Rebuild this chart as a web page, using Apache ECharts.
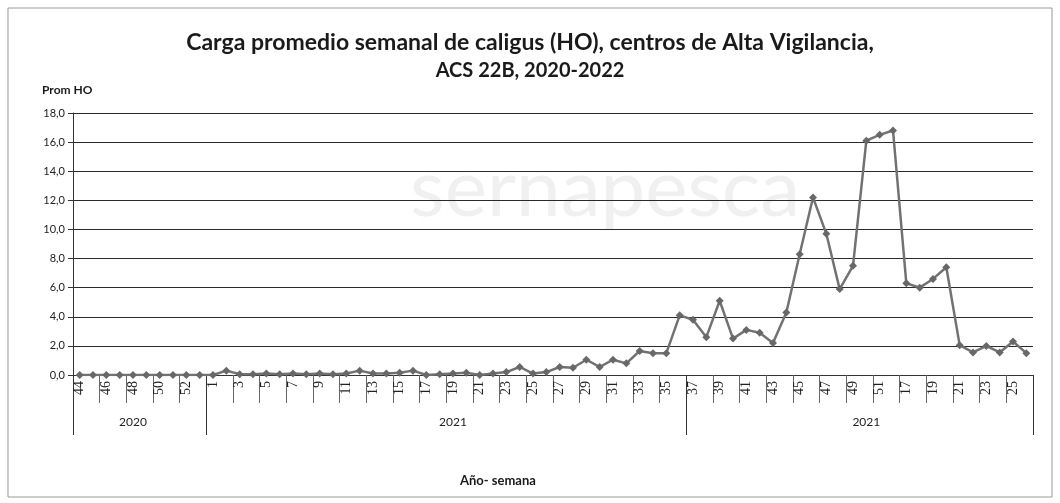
<!DOCTYPE html>
<html>
<head>
<meta charset="utf-8">
<script src="https://cdn.jsdelivr.net/npm/echarts@6/dist/echarts.min.js"></script>
<style>
html,body{margin:0;padding:0;background:#fff;}
#c{width:1060px;height:503px;}
</style>
</head>
<body>
<div id="c"></div>
<script>
// ---- data ----
var weeks = ['44','45','46','47','48','49','50','51','52','53',
  '1','2','3','4','5','6','7','8','9','10','11','12','13','14','15','16','17','18',
  '19','20','21','22','23','24','25','26','27','28','29','30','31','32','33','34','35','36',
  '37','38','39','40','41','42','43','44','45','46','47','48','49','50','51','52',
  '17','18','19','20','21','22','23','24','25','26'];
var values = [0,0,0,0,0,0,0,0,0,0,
  0.0,0.3,0.05,0.05,0.1,0.05,0.1,0.05,0.1,0.05,0.1,0.3,0.1,0.1,0.15,0.3,0.0,0.05,
  0.1,0.15,0.0,0.1,0.2,0.55,0.1,0.2,0.55,0.5,1.05,0.55,1.05,0.8,1.65,1.5,1.5,4.1,
  3.8,2.6,5.1,2.5,3.1,2.9,2.2,4.3,8.3,12.2,9.7,5.9,7.5,16.1,16.5,16.8,
  6.3,6.0,6.6,7.4,2.05,1.55,2.0,1.55,2.3,1.5];
var groupYears = ['2020','2021','2021'];
var groupSizes = [10,36,26];
var yTicks = [0,2,4,6,8,10,12,14,16,18];
var titleLine1 = 'Carga promedio semanal de caligus (HO), centros de Alta Vigilancia,';
var titleLine2 = 'ACS 22B, 2020-2022';
var yName = 'Prom HO';
var xName = 'Año- semana';

// group boundaries and label positions derived from group sizes
var groupStarts = [], groupMid = {}, acc = 0;
groupSizes.forEach(function(s, i){
  groupStarts.push(acc);
  groupMid[acc + Math.floor(s/2) - (s % 2 === 0 ? 1 : 0) + (i===0?0:1)] = groupYears[i];
  acc += s;
});

var chart = echarts.init(document.getElementById('c'), null, {renderer:'canvas'});
chart.setOption({
  backgroundColor:'#fff',
  animation:false,
  title:[
    {text:'{a|' + titleLine1 + '}\n{b|' + titleLine2 + '}', left:'center', top:24,
     textStyle:{rich:{
       a:{fontFamily:'Lato', fontWeight:'bold', fontSize:23, color:'#1a1a1a', lineHeight:28, align:'center'},
       b:{fontFamily:'Lato', fontWeight:'bold', fontSize:20, color:'#1a1a1a', lineHeight:28, align:'center'}
     }}},
    {text:yName, left:37, top:79,
     textStyle:{fontFamily:'Lato', fontWeight:'bold', fontSize:12, color:'#1a1a1a'}},
    {text:xName, left:455, top:469,
     textStyle:{fontFamily:'Lato', fontWeight:'bold', fontSize:13, color:'#1a1a1a'}}
  ],
  graphic:[
    {type:'rect', shape:{x:8, y:8, width:1044, height:489}, style:{fill:null, stroke:'#9a9a9a', lineWidth:1}, silent:true, z:-10},
    {type:'text', left:410, top:150, silent:true, z:-5,
     style:{text:'sernapesca', fontFamily:'Lato', fontSize:80, fill:'#f0f0f0'}}
  ],
  grid:{left:73, right:27, top:113, bottom:128, containLabel:false},
  xAxis:[
    {type:'category', data:weeks, boundaryGap:true,
     axisLine:{show:true, lineStyle:{color:'#333', width:1}},
     axisTick:{show:true, length:28, interval:function(i){return i%2===0;}, lineStyle:{color:'#666', width:1}},
     axisLabel:{interval:1, rotate:90, margin:6, fontFamily:'Liberation Serif', fontSize:14, color:'#222'},
     splitLine:{show:false}},
    {type:'category', data:weeks, position:'bottom', boundaryGap:true,
     axisLine:{show:false},
     axisTick:{show:true, length:60, interval:function(i){return groupStarts.indexOf(i)>=0;}, lineStyle:{color:'#333', width:1}},
     axisLabel:{interval:function(i){return groupMid[i]!==undefined;}, formatter:function(v,i){return groupMid[i]||'';},
       margin:41, fontFamily:'Lato', fontSize:12, color:'#222'},
     splitLine:{show:false}}
  ],
  yAxis:{type:'value', min:yTicks[0], max:yTicks[yTicks.length-1], interval:yTicks[1]-yTicks[0],
    axisLine:{show:true, lineStyle:{color:'#333', width:1}},
    axisTick:{show:true, length:5, lineStyle:{color:'#333'}},
    axisLabel:{margin:8, fontFamily:'Lato', fontSize:11, color:'#222',
      formatter:function(v){return v.toFixed(1).replace('.',',');}},
    splitLine:{show:true, lineStyle:{color:'#2a2a2a', width:1}}},
  series:[{
    type:'line', data:values, xAxisIndex:0,
    symbol:'diamond', symbolSize:8, showAllSymbol:true,
    lineStyle:{color:'#727272', width:2.5},
    itemStyle:{color:'#686868'}
  }]
});
</script>
</body>
</html>
